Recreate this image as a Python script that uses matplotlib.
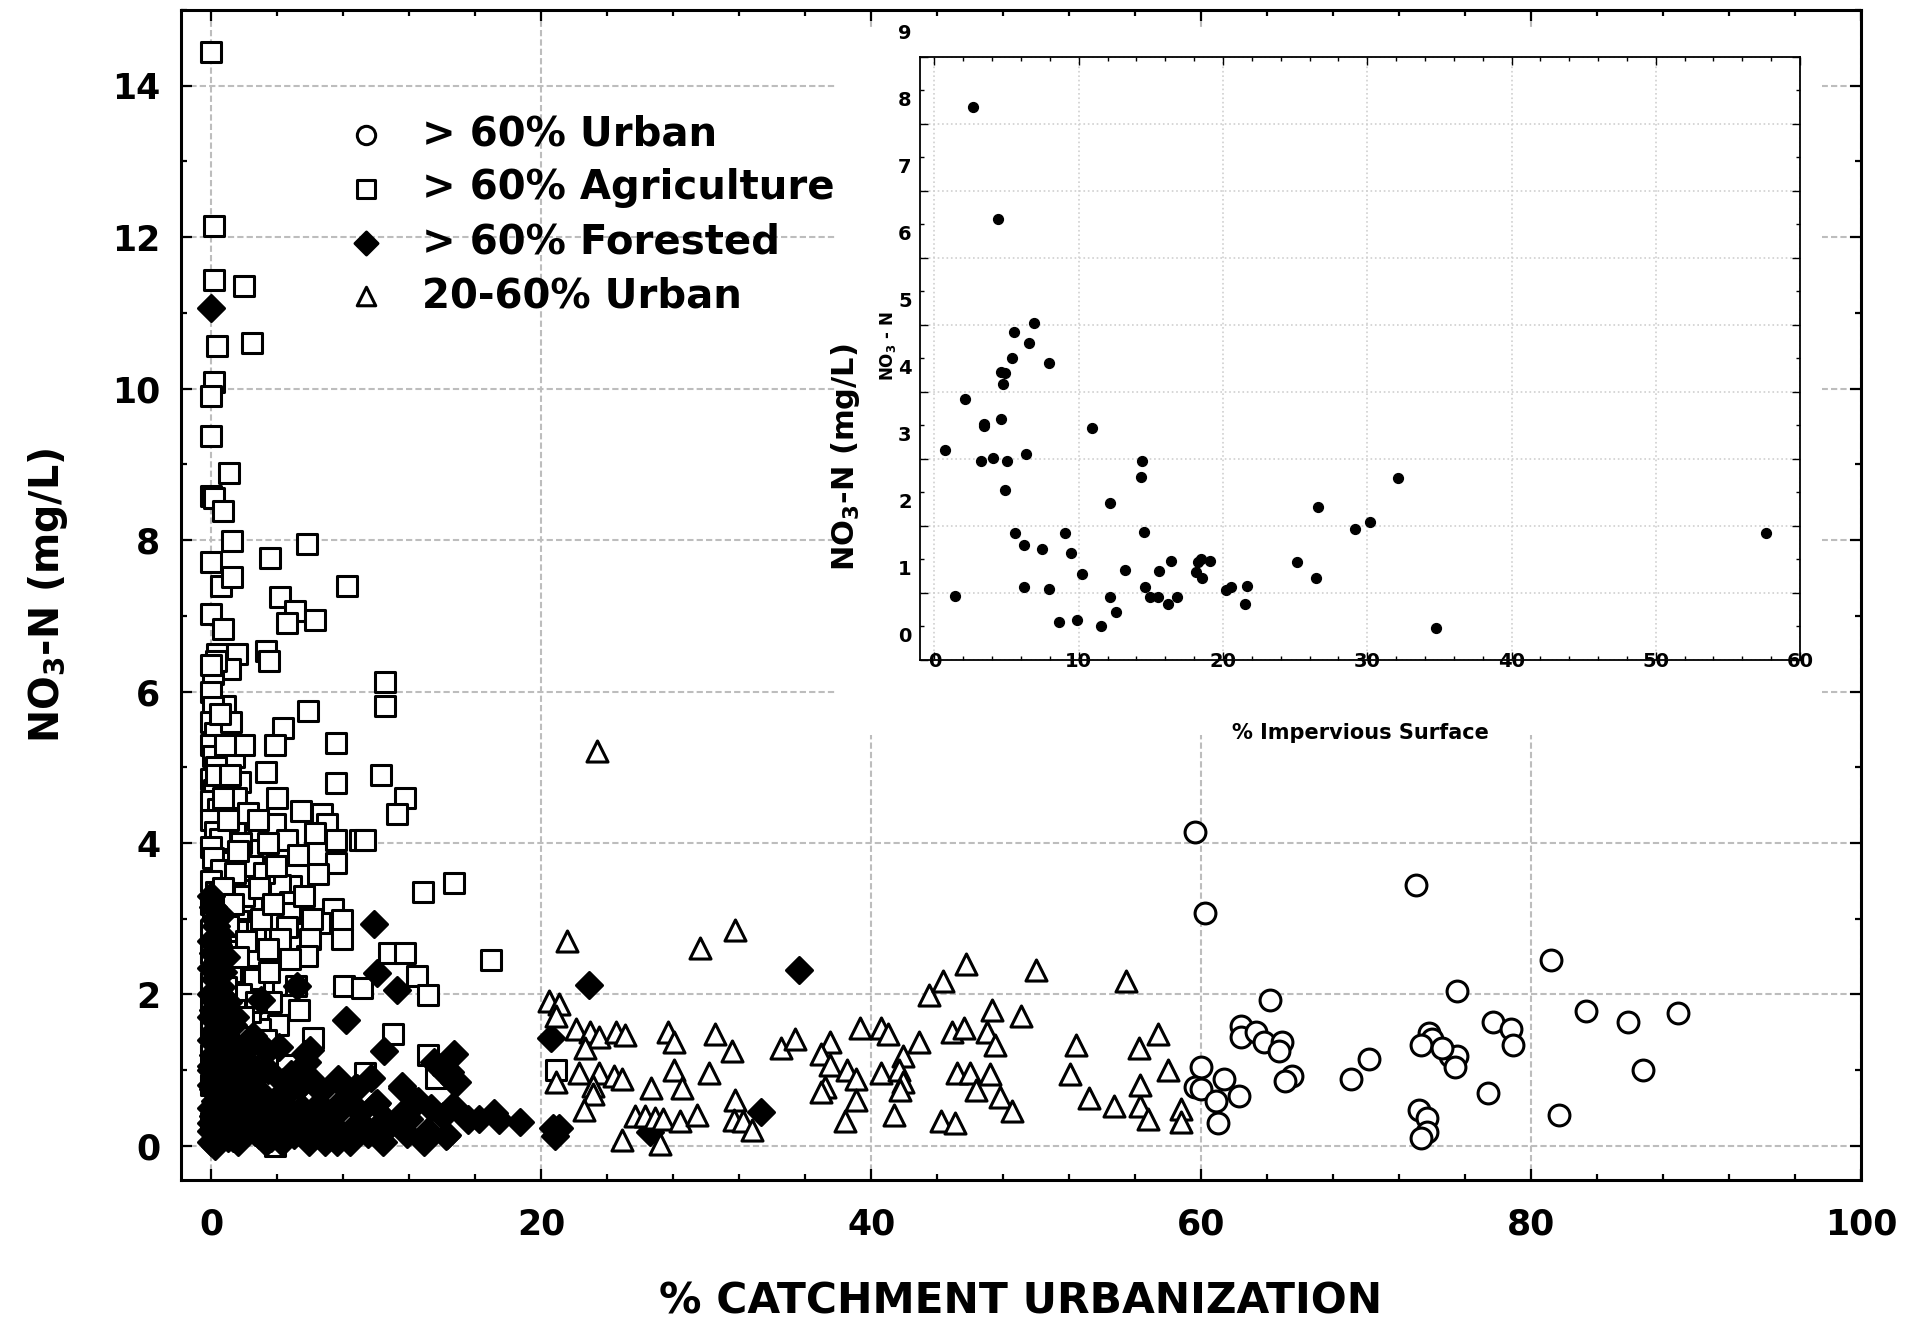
import matplotlib
matplotlib.use('Agg')
import matplotlib.pyplot as plt
import matplotlib.transforms as mtransforms
from matplotlib.patches import Rectangle
from matplotlib.ticker import MultipleLocator

plt.rcParams['font.family'] = ['DejaVu Sans']
plt.rcParams['font.weight'] = 'bold'
plt.rcParams['mathtext.default'] = 'bf'

# --- NO3-N vs % catchment urbanization, (x, y) per site ---
urban_pts = [
    (59.6, 4.15), (60.2, 3.08), (73.0, 3.45), (64.2, 1.93), (75.5, 2.04),
    (62.4, 1.59), (62.4, 1.44), (63.3, 1.51), (63.8, 1.37), (64.9, 1.37),
    (64.7, 1.26), (65.5, 0.93), (65.1, 0.86), (60.0, 1.04), (59.6, 0.78),
    (60.0, 0.75), (61.4, 0.89), (60.9, 0.59), (62.3, 0.66), (61.0, 0.30),
    (69.1, 0.89), (70.2, 1.15), (73.8, 1.49), (74.0, 1.41), (73.3, 1.33),
    (75.1, 1.19), (75.5, 1.19), (75.4, 1.04), (73.2, 0.48), (73.7, 0.37),
    (73.7, 0.18), (73.3, 0.11), (81.2, 2.45), (83.3, 1.78), (85.9, 1.64),
    (88.9, 1.75), (77.7, 1.64), (78.8, 1.55), (78.9, 1.33), (77.4, 0.70),
    (81.7, 0.41), (86.8, 1.00), (74.6, 1.29),
]

agri_pts = [
    (0.0, 14.45), (0.18, 12.15), (0.18, 11.44), (1.96, 11.36), (0.34, 10.56),
    (2.46, 10.60), (0.18, 10.09), (0.0, 9.90), (0.0, 9.37), (1.05, 8.89),
    (0.0, 8.58), (0.18, 8.55), (0.7, 8.39), (1.25, 7.99), (5.8, 7.95),
    (0.0, 7.71), (3.54, 7.76), (0.55, 7.40), (1.25, 7.51), (8.22, 7.40),
    (4.18, 7.25), (5.09, 7.07), (6.3, 6.95), (0.0, 7.02), (0.7, 6.83),
    (4.55, 6.90), (0.31, 6.50), (1.56, 6.50), (3.3, 6.54), (3.5, 6.41),
    (1.12, 6.30), (0.11, 6.23), (10.52, 6.12), (10.52, 5.81), (0.82, 5.81),
    (5.87, 5.74), (4.35, 5.52), (3.85, 5.29), (7.54, 5.32), (1.38, 5.14),
    (3.3, 4.94), (1.73, 4.80), (7.54, 4.79), (10.3, 4.90), (11.73, 4.60),
    (11.22, 4.38), (4.0, 4.60), (5.4, 4.42), (6.68, 4.38), (6.98, 4.25),
    (3.85, 4.25), (2.64, 4.13), (7.54, 4.04), (9.0, 4.04), (9.3, 4.04),
    (4.55, 4.04), (6.27, 4.13), (5.26, 3.84), (7.54, 3.74), (6.48, 3.59),
    (2.74, 3.91), (1.02, 3.75), (12.8, 3.35), (14.7, 3.47), (4.85, 3.43),
    (4.15, 3.44), (1.73, 3.38), (7.34, 3.13), (7.89, 2.99), (7.89, 2.73),
    (6.6, 2.95), (4.76, 3.22), (4.76, 3.08), (2.64, 2.84), (1.62, 3.13),
    (2.44, 3.24), (1.52, 2.84), (2.64, 2.51), (4.55, 2.89), (5.97, 2.73),
    (4.15, 2.73), (5.77, 2.51), (4.76, 2.47), (10.78, 2.55), (11.73, 2.55),
    (12.44, 2.25), (13.14, 1.99), (8.05, 2.11), (9.1, 2.08), (5.12, 2.11),
    (3.14, 2.08), (4.55, 1.86), (4.05, 1.60), (2.94, 1.55), (2.34, 1.77),
    (6.17, 1.42), (11.02, 1.48), (13.14, 1.20), (4.55, 1.07), (9.3, 0.96),
    (13.64, 0.90), (3.75, 0.55), (3.85, 0.0), (1.73, 1.50), (16.97, 2.45),
    (20.87, 1.0),
    (0.0, 6.0), (0.1, 5.8), (0.0, 5.6), (0.2, 5.45), (0.0, 5.3),
    (0.1, 5.15), (0.3, 5.0), (0.0, 4.85), (0.15, 4.7), (0.0, 4.55),
    (0.4, 4.45), (0.0, 4.3), (0.2, 4.15), (0.5, 4.05), (0.0, 3.95),
    (0.1, 3.8), (0.6, 3.65), (0.0, 3.5), (0.3, 3.35), (0.0, 3.2),
    (0.8, 3.1), (0.1, 3.0), (0.0, 2.85), (0.4, 2.7), (0.0, 2.55),
    (0.9, 2.45), (0.2, 2.3), (0.0, 2.15), (0.6, 2.0), (0.0, 1.85),
    (0.3, 1.7), (0.0, 1.55), (1.0, 1.35), (0.0, 1.2), (0.5, 1.0),
    (0.0, 0.8), (0.2, 0.5), (0.0, 0.3),
    (1.2, 5.6), (2.0, 5.3), (1.5, 4.6), (2.2, 4.4), (1.0, 4.3),
    (1.8, 4.0), (2.5, 3.7), (1.4, 3.6), (3.2, 3.6), (2.0, 3.3),
    (3.0, 3.0), (1.0, 2.9), (2.1, 2.7), (3.4, 2.6), (1.2, 2.3),
    (2.6, 2.2), (1.8, 2.0), (3.6, 1.9), (1.4, 1.8), (2.2, 1.3), (1.0, 1.6),
    (0.3, 6.4), (0.0, 6.35), (0.5, 5.7), (0.8, 5.3), (0.3, 4.9),
    (0.7, 4.6), (1.1, 4.9), (2.8, 4.3), (3.4, 4.0), (3.9, 3.7),
    (1.6, 3.9), (2.9, 3.4), (3.7, 3.2), (5.6, 3.3), (6.1, 3.0),
    (0.7, 3.4), (1.3, 3.2), (0.5, 2.6), (1.6, 2.5), (3.5, 2.3),
    (0.9, 2.1), (2.7, 1.9), (1.9, 1.7), (3.3, 1.4), (5.3, 1.8),
]

forest_pts = [
    (0.0, 11.07), (9.85, 2.93), (10.02, 2.28), (11.24, 2.06), (8.17, 1.66),
    (5.16, 2.11), (2.99, 1.93), (10.47, 1.25), (13.5, 1.11), (14.71, 1.21),
    (14.2, 0.95), (14.71, 0.84), (14.46, 0.98), (11.55, 0.77), (7.76, 0.84),
    (8.73, 0.77), (6.64, 0.72), (9.95, 0.56), (11.76, 0.46), (14.66, 0.53),
    (14.05, 0.40), (15.58, 0.34), (17.15, 0.43), (17.42, 0.34), (18.7, 0.32),
    (14.2, 0.13), (11.83, 0.16), (10.54, 0.21), (9.5, 0.16), (7.59, 0.05),
    (6.75, 0.10), (8.45, 0.21), (5.32, 0.78), (4.1, 1.31), (5.67, 1.22),
    (3.37, 1.26), (5.97, 1.27), (5.77, 1.11), (2.94, 0.97), (4.35, 0.84),
    (5.36, 0.79), (7.69, 0.88), (8.8, 0.77), (11.53, 0.79), (14.86, 0.85),
    (10.01, 0.57), (11.83, 0.48), (15.57, 0.35), (7.58, 0.44), (6.58, 0.35),
    (5.77, 0.35), (4.76, 0.48), (9.1, 0.29), (10.52, 0.35), (11.43, 0.27),
    (14.26, 0.14), (6.88, 0.05), (4.55, 0.18), (2.64, 0.18), (1.52, 0.44),
    (0.51, 0.88), (22.9, 2.13), (35.6, 2.32), (20.6, 1.43), (20.7, 0.24),
    (20.8, 0.13), (21.07, 0.24), (26.6, 0.19), (33.3, 0.45), (12.5, 0.6),
    (13.1, 0.2), (16.2, 0.35),
    (0.0, 3.3), (0.1, 3.15), (0.2, 3.0), (0.3, 2.9), (0.5, 2.8),
    (0.0, 2.7), (0.1, 2.55), (0.4, 2.45), (0.0, 2.35), (0.2, 2.2),
    (0.6, 2.1), (0.0, 2.0), (0.3, 1.9), (0.1, 1.8), (0.0, 1.7),
    (0.5, 1.6), (0.2, 1.5), (0.0, 1.4), (0.8, 1.3), (0.1, 1.2),
    (0.4, 1.1), (0.0, 1.0), (0.2, 0.9), (0.0, 0.8), (0.6, 0.7),
    (0.3, 0.6), (0.0, 0.5), (0.1, 0.4), (0.9, 0.35), (0.2, 0.3),
    (0.0, 0.2), (0.4, 0.15), (1.0, 0.1), (0.0, 0.05), (0.2, 0.0),
    (0.7, 0.25), (0.1, 0.75), (0.0, 1.05), (1.2, 0.5), (0.3, 1.55),
    (0.5, 2.0), (0.0, 0.3), (1.5, 0.2), (0.8, 0.95), (1.1, 1.4),
    (0.2, 0.6), (1.8, 0.7), (1.3, 0.1), (0.6, 0.45), (2.0, 0.35),
    (1.6, 0.05), (2.4, 0.25), (1.0, 0.65), (2.8, 0.5), (1.9, 0.15),
    (3.2, 0.3), (2.2, 0.85), (3.6, 0.1), (2.6, 0.4), (4.0, 0.2),
    (1.4, 1.7), (0.9, 2.5), (2.3, 1.1), (1.7, 1.2), (3.0, 0.7),
    (4.5, 0.3), (5.0, 0.15), (3.8, 0.6), (2.0, 0.9), (5.5, 0.5),
    (6.2, 0.25), (4.3, 0.05),
    (0.6, 3.05), (0.4, 2.65), (0.7, 2.3), (1.0, 1.9), (1.3, 1.6),
    (0.9, 1.15), (1.6, 0.95), (2.5, 1.45), (2.0, 1.25), (3.4, 1.0),
    (2.7, 0.75), (4.1, 0.55), (3.3, 0.05), (4.8, 0.95), (5.2, 0.4),
    (5.9, 0.05), (6.5, 0.55), (7.1, 0.2), (7.9, 0.6), (8.4, 0.05),
    (9.0, 0.45), (9.7, 0.9), (10.4, 0.05), (12.0, 0.35), (13.3, 0.5),
    (1.7, 0.35), (2.3, 0.55), (2.9, 0.15), (3.9, 0.35), (4.6, 0.7),
    (6.0, 0.9), (7.3, 0.4), (8.0, 0.15), (12.9, 0.05), (1.1, 0.8),
]

mixed_pts = [
    (21.56, 2.70), (29.64, 2.62), (31.74, 2.85), (20.46, 1.92), (21.05, 1.88),
    (20.87, 1.72), (22.08, 1.55), (22.97, 1.50), (23.5, 1.44), (22.63, 1.29),
    (24.55, 1.51), (25.09, 1.47), (27.68, 1.50), (28.04, 1.37), (30.5, 1.48),
    (31.56, 1.25), (34.55, 1.29), (35.4, 1.41), (37.5, 1.37), (36.97, 1.22),
    (37.5, 1.07), (38.5, 1.0), (39.1, 0.88), (39.3, 1.56), (39.09, 0.61),
    (37.17, 0.78), (36.97, 0.71), (38.38, 0.33), (20.87, 0.85), (22.26, 0.97),
    (23.5, 0.97), (24.38, 0.93), (24.9, 0.88), (23.13, 0.79), (23.13, 0.68),
    (22.59, 0.47), (24.9, 0.08), (26.63, 0.77), (28.04, 1.0), (28.55, 0.77),
    (30.16, 0.96), (25.7, 0.39), (26.26, 0.39), (26.87, 0.37), (27.37, 0.36),
    (28.38, 0.33), (29.45, 0.41), (27.17, 0.02), (31.74, 0.61), (31.66, 0.34),
    (32.2, 0.33), (32.79, 0.21), (40.6, 1.56), (41.0, 1.48), (42.9, 1.37),
    (41.9, 1.19), (40.6, 0.97), (41.7, 1.0), (41.9, 0.85), (41.75, 0.74),
    (41.37, 0.41), (43.47, 1.99), (44.34, 2.18), (45.76, 2.40), (44.9, 1.51),
    (45.6, 1.56), (45.2, 0.97), (45.96, 0.97), (46.36, 0.74), (44.2, 0.33),
    (45.09, 0.30), (49.97, 2.33), (55.45, 2.18), (47.34, 1.79), (49.1, 1.71),
    (47.0, 1.50), (47.5, 1.33), (52.4, 1.33), (56.2, 1.30), (57.4, 1.48),
    (47.2, 0.95), (47.8, 0.65), (48.5, 0.46), (52.05, 0.95), (53.2, 0.63),
    (54.7, 0.53), (56.3, 0.53), (56.8, 0.35), (58.0, 1.0), (56.3, 0.81),
    (58.8, 0.49), (58.8, 0.32), (23.4, 5.22),
]

# --- inset: NO3-N vs % impervious surface ---
imperv_pts = [
    (2.68, 8.26), (4.43, 6.58), (6.91, 5.03), (5.50, 4.90), (6.57, 4.73),
    (5.35, 4.50), (7.93, 4.43), (4.62, 4.30), (4.91, 4.28), (4.77, 4.12),
    (2.14, 3.89), (4.62, 3.59), (3.41, 3.52), (3.41, 3.49), (10.9, 3.46),
    (0.73, 3.14), (6.37, 3.08), (3.21, 2.97), (4.04, 3.01), (5.06, 2.97),
    (14.40, 2.97), (14.31, 2.73), (32.12, 2.71), (4.87, 2.53), (12.17, 2.34),
    (26.57, 2.29), (30.17, 2.06), (29.15, 1.95), (5.60, 1.89), (9.05, 1.89),
    (14.50, 1.91), (57.66, 1.89), (6.18, 1.71), (7.49, 1.66), (9.44, 1.59),
    (16.4, 1.48), (18.25, 1.46), (18.49, 1.50), (19.12, 1.48), (25.11, 1.46),
    (13.19, 1.35), (15.57, 1.33), (10.22, 1.28), (18.15, 1.32), (18.54, 1.22),
    (26.47, 1.22), (6.18, 1.09), (7.93, 1.06), (14.6, 1.09), (20.19, 1.05),
    (20.54, 1.09), (21.65, 1.11), (1.46, 0.95), (12.17, 0.94), (14.94, 0.94),
    (15.52, 0.94), (16.79, 0.94), (16.16, 0.83), (21.5, 0.83), (12.56, 0.72),
    (8.66, 0.56), (9.88, 0.59), (11.53, 0.51), (34.79, 0.47),
]

series = [
    ('> 60% Agriculture', agri_pts, 's', 'white', 205),
    ('> 60% Forested', forest_pts, 'D', 'black', 175),
    ('20-60% Urban', mixed_pts, '^', 'white', 230),
    ('> 60% Urban', urban_pts, 'o', 'white', 225),
]
legend_order = ['> 60% Urban', '> 60% Agriculture', '> 60% Forested', '20-60% Urban']

fig = plt.figure(figsize=(19.17, 13.25), dpi=100)
ax = fig.add_axes([0.0944, 0.1094, 0.8764, 0.8831])
ax.set_zorder(0)

handles = {}
for name, pts, mk, fc, size in series:
    xs, ys = zip(*pts)
    handles[name] = ax.scatter(xs, ys, marker=mk, s=size, facecolors=fc,
                               edgecolors='black', linewidths=2.2, zorder=3,
                               label=name)

ax.set_xlim(-1.85, 100)
ax.set_ylim(-0.45, 15)
ax.xaxis.set_major_locator(MultipleLocator(20))
ax.xaxis.set_minor_locator(MultipleLocator(4))
ax.yaxis.set_major_locator(MultipleLocator(2))
ax.yaxis.set_minor_locator(MultipleLocator(1))
ax.grid(True, which='major', color='#bdbdbd', linestyle=(0, (3, 1.5)), linewidth=1.5)
ax.set_axisbelow(True)
ax.tick_params(which='both', direction='in', top=True, right=True, width=1.6,
               labelsize=25)
ax.tick_params(which='major', length=8)
ax.tick_params(which='minor', length=4)
ax.tick_params(axis='x', pad=20)
ax.tick_params(axis='y', pad=15)
for sp in ax.spines.values():
    sp.set_linewidth(2.2)

ax.set_xlabel('% CATCHMENT URBANIZATION', fontsize=30.5, fontweight='bold')
ax.xaxis.set_label_coords(0.5, -0.086)
ax.set_ylabel(r'NO$_3$-N (mg/L)', fontsize=28.5, fontweight='bold')
ax.yaxis.set_label_coords(-0.066, 0.5)

leg = ax.legend([handles[n] for n in legend_order], legend_order,
                loc='upper left', bbox_to_anchor=(0.086, 0.928),
                frameon=False, fontsize=29, scatterpoints=1,
                handlelength=1.0, handletextpad=0.9, borderpad=0.0,
                labelspacing=0.345, markerscale=0.88)
for t in leg.get_texts():
    t.set_fontweight('bold')

# white panel behind the inset hides the main grid there
cover = Rectangle((0.436, 0.4453), 0.5145, 0.532, transform=fig.transFigure,
                  facecolor='white', edgecolor='none', zorder=1)
fig.add_artist(cover)

ax_in = fig.add_axes([0.4799, 0.5019, 0.4591, 0.4551])
ax_in.set_zorder(2)
ix, iy = zip(*imperv_pts)
ax_in.scatter(ix, iy, s=50, color='black', zorder=3)
ax_in.set_xlim(-1, 60)
ax_in.set_ylim(0, 9)
ax_in.xaxis.set_major_locator(MultipleLocator(10))
ax_in.xaxis.set_minor_locator(MultipleLocator(2))
ax_in.set_yticks(range(0, 10))
ax_in.yaxis.set_minor_locator(MultipleLocator(0.5))
ax_in.grid(True, which='major', color='#d0d0d0', linestyle=':', linewidth=1.2)
ax_in.set_axisbelow(True)
ax_in.tick_params(which='both', direction='in', top=True, right=True, width=1.0,
                  labelsize=14)
ax_in.tick_params(which='major', length=6)
ax_in.tick_params(which='minor', length=3)
ax_in.tick_params(axis='x', pad=-6)
ax_in.tick_params(axis='y', pad=6)
for sp in ax_in.spines.values():
    sp.set_linewidth(1.3)

# y labels of the inset sit a bit above their ticks
shift = mtransforms.ScaledTranslation(0, 0.25, fig.dpi_scale_trans)
for lbl in ax_in.get_yticklabels():
    lbl.set_transform(lbl.get_transform() + shift)

ax_in.set_xlabel('% Impervious Surface', fontsize=15, fontweight='bold')
ax_in.xaxis.set_label_coords(0.5, -0.104)
ax_in.set_ylabel(r'NO$_3$-N (mg/L)', fontsize=22, fontweight='bold')
ax_in.yaxis.set_label_coords(-0.066, 0.337)
ax_in.text(-0.036, 0.52, r'NO$_3$ - N', transform=ax_in.transAxes, rotation=90,
           ha='center', va='center', fontsize=12, fontweight='bold')

fig.savefig('out.png', dpi=100)
